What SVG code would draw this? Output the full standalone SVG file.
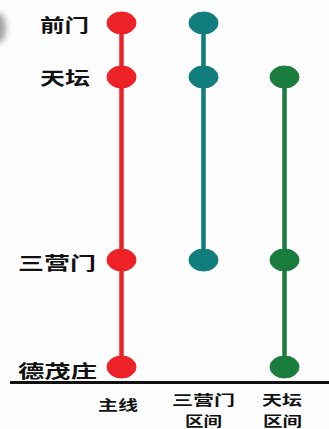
<svg xmlns="http://www.w3.org/2000/svg" width="329" height="429" viewBox="0 0 329 429">
  <style>
    text { font-family: "Noto Sans CJK SC", "Noto Sans", sans-serif; font-weight: bold; fill: #111; }
    .st { font-size: 18px; }
    .lb { font-size: 14px; text-anchor: middle; }
    .red { stroke: #ec2226; fill: #ec2226; }
    .teal { stroke: #117e7d; fill: #117e7d; }
    .green { stroke: #1a7d3d; fill: #1a7d3d; }
    line.stem { stroke-width: 4.5; }
  </style>
  <defs>
    <filter id="blur" x="-1" y="-1" width="3" height="3"><feGaussianBlur stdDeviation="3"/></filter>
  </defs>
  <rect width="329" height="429" fill="#fdfdfd"/>
  <ellipse cx="-2" cy="28" rx="8" ry="15" fill="#a0a0a0" filter="url(#blur)"/>

  <g id="connectors">
    <line class="stem red" x1="121.5" y1="23" x2="121.5" y2="367"/>
    <line class="stem teal" x1="203.5" y1="23" x2="203.5" y2="260"/>
    <line class="stem green" x1="284.5" y1="77" x2="284.5" y2="367"/>
    <line x1="10" y1="382.5" x2="329" y2="382.5" stroke="#111" stroke-width="3"/>
  </g>

  <g id="station-qianmen">
    <text class="st" x="40" y="32" textLength="49" lengthAdjust="spacingAndGlyphs">前门</text>
    <ellipse class="red" cx="121.5" cy="23" rx="14.5" ry="11"/>
    <ellipse class="teal" cx="203.5" cy="23" rx="14.5" ry="11"/>
  </g>
  <g id="station-tiantan">
    <text class="st" x="40" y="85" textLength="50" lengthAdjust="spacingAndGlyphs">天坛</text>
    <ellipse class="red" cx="121.5" cy="77" rx="14.5" ry="11"/>
    <ellipse class="teal" cx="203.5" cy="77" rx="14.5" ry="11"/>
    <ellipse class="green" cx="284.5" cy="77" rx="14.5" ry="11"/>
  </g>
  <g id="station-sanyingmen">
    <text class="st" x="18" y="270" textLength="78" lengthAdjust="spacingAndGlyphs">三营门</text>
    <ellipse class="red" cx="121.5" cy="260" rx="14.5" ry="11"/>
    <ellipse class="teal" cx="203.5" cy="260" rx="14.5" ry="11"/>
    <ellipse class="green" cx="284.5" cy="260" rx="14.5" ry="11"/>
  </g>
  <g id="station-demaozhuang">
    <text class="st" x="18" y="378" textLength="79" lengthAdjust="spacingAndGlyphs">德茂庄</text>
    <ellipse class="red" cx="121.5" cy="367" rx="14.5" ry="11"/>
    <ellipse class="green" cx="284.5" cy="367" rx="14.5" ry="11"/>
  </g>

  <g id="label-main">
    <text class="lb" x="118" y="410" textLength="40" lengthAdjust="spacingAndGlyphs">主线</text>
  </g>
  <g id="label-sanyingmen">
    <text class="lb" x="203.5" y="405" textLength="63" lengthAdjust="spacingAndGlyphs">三营门</text>
    <text class="lb" x="203.5" y="426" textLength="37" lengthAdjust="spacingAndGlyphs">区间</text>
  </g>
  <g id="label-tiantan">
    <text class="lb" x="282" y="405" textLength="40" lengthAdjust="spacingAndGlyphs">天坛</text>
    <text class="lb" x="282.5" y="426" textLength="39" lengthAdjust="spacingAndGlyphs">区间</text>
  </g>
</svg>
